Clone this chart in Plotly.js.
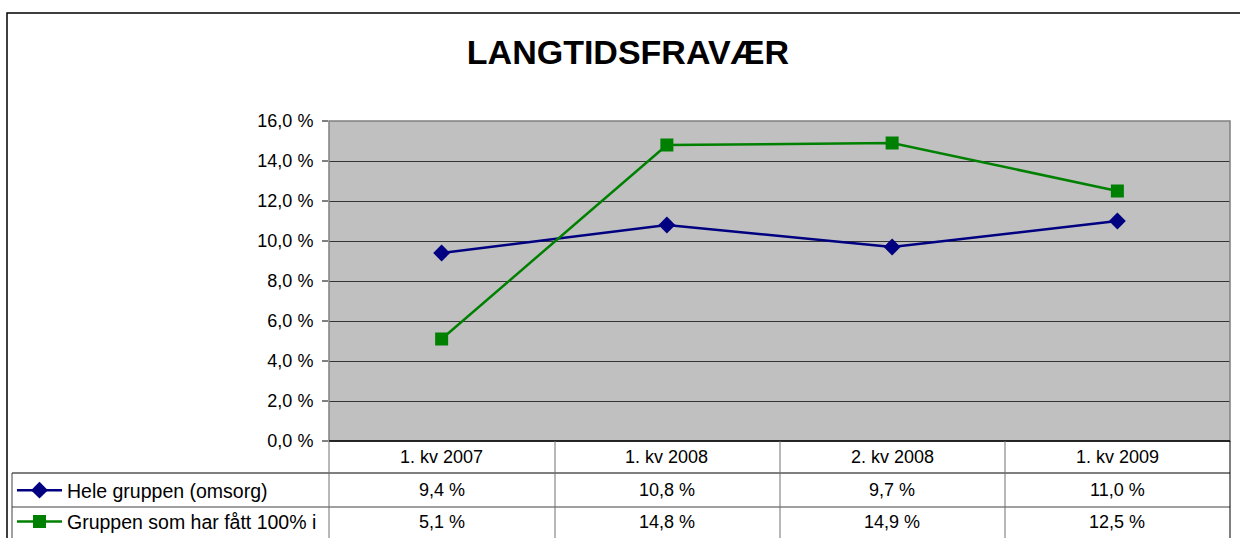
<!DOCTYPE html>
<html>
<head>
<meta charset="utf-8">
<script src="https://cdn.plot.ly/plotly-3.0.1.min.js"></script>
<style>html,body{margin:0;padding:0;background:#fff;}#chart{width:1240px;height:538px;}</style>
</head>
<body>
<div id="chart"></div>
<script>
var categories = ["1. kv 2007", "1. kv 2008", "2. kv 2008", "1. kv 2009"];
var seriesNames = ["Hele gruppen (omsorg)", "Gruppen som har fått 100% i"];
var heleGruppen = [9.4, 10.8, 9.7, 11.0];
var gruppen100 = [5.1, 14.8, 14.9, 12.5];
var yTicks = [0, 2, 4, 6, 8, 10, 12, 14, 16];

var W = 1240, H = 538;
function px(x){ return x / W; }
function py(y){ return 1 - y / H; }
function fmt(v){ return v.toFixed(1).replace('.', ',') + ' %'; }

var FONT = 'Liberation Sans, Arial, sans-serif';
var plotL = 329, plotR = 1230, plotT = 121, plotB = 441;

var traces = [
  {x: categories, y: heleGruppen, name: seriesNames[0], type: 'scatter', mode: 'lines+markers',
   legendgroup: 'a',
   line: {color: '#000080', width: 2.5}, marker: {symbol: 'diamond', size: 13, color: '#000080'}},
  {x: categories, y: gruppen100, name: seriesNames[1], type: 'scatter', mode: 'lines+markers',
   legendgroup: 'b',
   line: {color: '#008000', width: 2.5}, marker: {symbol: 'square', size: 13, color: '#008000'}}
];

var shapes = [];
shapes.push({type: 'rect', xref: 'paper', yref: 'paper', x0: px(7), x1: px(1250), y0: py(13), y1: py(560),
  line: {color: '#000', width: 1.5}, fillcolor: 'rgba(0,0,0,0)', layer: 'below'});
shapes.push({type: 'rect', xref: 'paper', yref: 'paper', x0: px(plotL), x1: px(plotR), y0: py(plotB), y1: py(plotT),
  line: {color: '#808080', width: 1.5}, fillcolor: 'rgba(0,0,0,0)'});
shapes.push({type: 'line', xref: 'paper', yref: 'paper', x0: px(plotL), x1: px(plotR), y0: py(441), y1: py(441), line: {color: '#000', width: 1.5}});
shapes.push({type: 'line', xref: 'paper', yref: 'paper', x0: px(12), x1: px(plotR), y0: py(473), y1: py(473), line: {color: '#000', width: 1}});
shapes.push({type: 'line', xref: 'paper', yref: 'paper', x0: px(12), x1: px(plotR), y0: py(507), y1: py(507), line: {color: '#404040', width: 1}});
shapes.push({type: 'line', xref: 'paper', yref: 'paper', x0: px(12), x1: px(12), y0: py(473), y1: py(545), line: {color: '#404040', width: 1}});
var colX = [329, 555, 780, 1005, 1230];
colX.forEach(function(cx, i){
  shapes.push({type: 'line', xref: 'paper', yref: 'paper', x0: px(cx), x1: px(cx), y0: py(441), y1: py(545),
    line: {color: i === colX.length - 1 ? '#000' : '#707070', width: 1}});
});

var annotations = [];
var TF = {family: FONT, size: 18, color: '#000'};
categories.forEach(function(c, i){
  annotations.push({xref: 'x', yref: 'paper', x: c, y: py(457), text: c, showarrow: false,
    font: TF, xanchor: 'center', yanchor: 'middle'});
  annotations.push({xref: 'x', yref: 'paper', x: c, y: py(490), text: fmt(heleGruppen[i]), showarrow: false,
    font: TF, xanchor: 'center', yanchor: 'middle'});
  annotations.push({xref: 'x', yref: 'paper', x: c, y: py(522), text: fmt(gruppen100[i]), showarrow: false,
    font: TF, xanchor: 'center', yanchor: 'middle'});
});

var layout = {
  width: W, height: H,
  margin: {l: 0, r: 0, t: 0, b: 0, autoexpand: false},
  paper_bgcolor: '#fff',
  plot_bgcolor: '#C0C0C0',
  title: {text: 'LANGTIDSFRAVÆR', x: px(628), xanchor: 'center', y: py(52), yanchor: 'middle',
    font: {family: FONT, size: 34, color: '#000', weight: 'bold'}},
  xaxis: {domain: [px(plotL), px(plotR)], type: 'category', range: [-0.5, 3.5],
    showticklabels: false, showgrid: false, zeroline: false, ticks: '', fixedrange: true},
  yaxis: {domain: [py(plotB), py(plotT)], range: [0, 16], tickvals: yTicks,
    ticktext: yTicks.map(function(v){ return v.toFixed(1).replace('.', ',') + ' %'; }),
    ticks: 'outside', ticklen: 6, tickcolor: '#808080', tickwidth: 1.5,
    showgrid: true, gridcolor: '#333333', gridwidth: 1, zeroline: false,
    showline: false, tickfont: {family: FONT, size: 18, color: '#000'}, ticklabelstandoff: 5},
  showlegend: true,
  legend: {x: px(12), y: py(471), xanchor: 'left', yanchor: 'top', bgcolor: 'rgba(0,0,0,0)',
    font: {family: FONT, size: 19.5, color: '#000'}, tracegroupgap: 3, itemwidth: 45},
  shapes: shapes,
  annotations: annotations
};

Plotly.newPlot('chart', traces, layout, {displayModeBar: false, staticPlot: true});
</script>
</body>
</html>
